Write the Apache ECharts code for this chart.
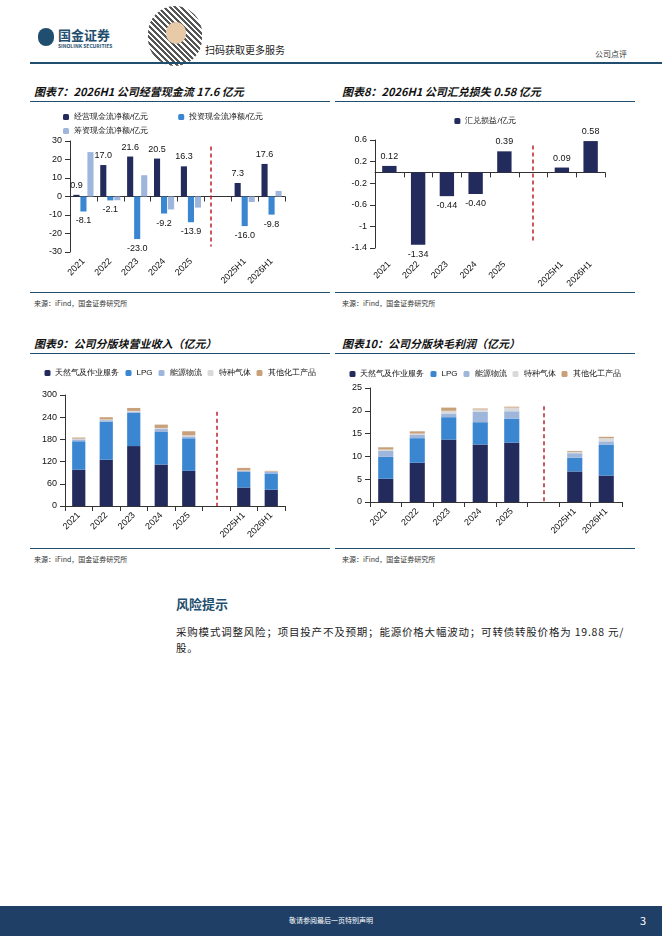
<!DOCTYPE html>
<html><head><meta charset="utf-8">
<script src="https://cdn.jsdelivr.net/npm/echarts@6/dist/echarts.min.js"></script>
<style>
body{margin:0;width:662px;height:936px;position:relative;background:#fff;font-family:"Noto Sans CJK SC",sans-serif;overflow:hidden}
.a{position:absolute}
.t{font-size:11px;font-weight:bold;font-style:italic;color:#111}
.ln{height:1px;background:#1f4e6e}
.src{font-size:7px;color:#333}
</style></head><body>
<div class="a" style="left:38px;top:28px;width:16px;height:18px;border-radius:8px;background:#1f4e6e"></div>
<div class="a" style="left:58px;top:25px;font-size:13px;font-weight:bold;color:#1f4e6e">国金证券</div>
<div class="a" style="left:58px;top:42px;font-size:5px;font-weight:bold;color:#1f4e6e">SINOLINK SECURITIES</div>
<div class="a" style="left:148px;top:6px;width:54px;height:60px;border-radius:27px;background:repeating-linear-gradient(45deg,#555 0 2px,#fff 2px 4px)"></div>
<div class="a" style="left:166px;top:22px;width:20px;height:22px;border-radius:10px;background:#e8c9a8"></div>
<div class="a" style="left:205px;top:42px;font-size:10px;color:#222">扫码获取更多服务</div>
<div class="a" style="left:595px;top:48px;font-size:8px;color:#333">公司点评</div>
<div class="a ln" style="left:30px;top:62px;width:632px;height:1.5px"></div>

<div class="a t" style="left:34px;top:83px">图表7：2026H1 公司经营现金流 17.6 亿元</div>
<div class="a ln" style="left:30px;top:101px;width:300px"></div>
<div class="a t" style="left:342px;top:83px">图表8：2026H1 公司汇兑损失 0.58 亿元</div>
<div class="a ln" style="left:335px;top:101px;width:300px"></div>
<div class="a ln" style="left:30px;top:292px;width:300px"></div>
<div class="a ln" style="left:335px;top:292px;width:300px"></div>
<div class="a src" style="left:34px;top:298px">来源：iFind，国金证券研究所</div>
<div class="a src" style="left:342px;top:298px">来源：iFind，国金证券研究所</div>

<div class="a t" style="left:34px;top:335px">图表9：公司分版块营业收入（亿元）</div>
<div class="a ln" style="left:30px;top:353px;width:300px"></div>
<div class="a t" style="left:342px;top:335px">图表10：公司分版块毛利润（亿元）</div>
<div class="a ln" style="left:335px;top:353px;width:300px"></div>
<div class="a ln" style="left:30px;top:548px;width:300px"></div>
<div class="a ln" style="left:335px;top:548px;width:300px"></div>
<div class="a src" style="left:34px;top:554px">来源：iFind，国金证券研究所</div>
<div class="a src" style="left:342px;top:554px">来源：iFind，国金证券研究所</div>

<div class="a" style="left:176px;top:594px;font-size:13px;font-weight:bold;color:#1f4e6e">风险提示</div>
<div class="a" style="left:176px;top:624px;width:460px;font-size:10.5px;color:#222;line-height:16px;letter-spacing:0.8px">采购模式调整风险；项目投产不及预期；能源价格大幅波动；可转债转股价格为 19.88 元/股。</div>

<div class="a" style="left:0;top:906px;width:662px;height:30px;background:#1f3f66"></div>
<div class="a" style="left:0;top:915px;width:662px;text-align:center;font-size:7px;color:#fff">敬请参阅最后一页特别声明</div>
<div class="a" style="left:640px;top:912px;font-size:11px;color:#fff">3</div>

<div id="c7" class="a" style="left:30px;top:105px;width:300px;height:190px"></div>
<div id="c8" class="a" style="left:335px;top:105px;width:300px;height:190px"></div>
<div id="c9" class="a" style="left:30px;top:355px;width:300px;height:195px"></div>
<div id="c10" class="a" style="left:335px;top:355px;width:300px;height:195px"></div>
<script>
const categories=['2021','2022','2023','2024','2025','','2025H1','2026H1'];
const opCF=[0.9,17.0,21.6,20.5,16.3,null,7.3,17.6];
const invCF=[-8.1,-2.1,-23.0,-9.2,-13.9,null,-16.0,-9.8];
const finCF=[24.0,-2.0,11.5,-7.0,-6.0,null,-3.0,3.0];
const fx=[0.12,-1.34,-0.44,-0.40,0.39,null,0.09,0.58];
const segNames=['天然气及作业服务','LPG','能源物流','特种气体','其他化工产品'];
const revGas=[98,125,162,112,95,null,50,44];
const revLPG=[77,103,90,88,88,null,42,44];
const revLog=[5,4,3,8,5,null,3,4];
const revSpec=[2,2,2,3,3,null,1,1];
const revOther=[3,6,8,9,11,null,7,2];
const gpGas=[5.1,8.6,13.7,12.6,13.0,null,6.7,5.8];
const gpLPG=[4.8,5.4,4.9,4.9,5.3,null,3.0,6.8];
const gpLog=[1.3,0.7,0.8,2.3,1.6,null,1.0,0.7];
const gpSpec=[0.3,0.3,0.6,0.5,0.8,null,0.3,0.7];
const gpOther=[0.5,0.5,0.7,0.2,0.2,null,0.2,0.3];
const C=['#232a5c','#3a86d0','#9fb6dc','#d9d9d9','#c8a07a'];
function xAx(m){return {type:'category',data:categories,axisTick:{show:true,alignWithLabel:false,lineStyle:{color:'#333'}},axisLine:{lineStyle:{color:'#333'}},axisLabel:{rotate:45,fontSize:9,color:'#111',interval:0,fontFamily:'Arial',margin:m||8}};}
function yAx(min,max,itv){return {type:'value',min,max,interval:itv,splitLine:{show:false},axisLine:{show:true,lineStyle:{color:'#333'}},axisTick:{show:true,lineStyle:{color:'#333'}},axisLabel:{fontSize:9,color:'#111',fontFamily:'Arial'}};}
function mk(y1,y2){return {symbol:'none',silent:true,label:{show:false},lineStyle:{color:'#c0202a',type:[4,3],width:1.5},data:[[{coord:[5,y1]},{coord:[5,y2]}]]};}
const lbl={fontSize:9,color:'#111',fontFamily:'Arial'};
const lg={itemWidth:6,itemHeight:6,textStyle:{fontSize:8,color:'#111'}};
echarts.init(document.getElementById('c7')).setOption({animation:false,
 legend:[{left:28,top:3,itemGap:30,data:['经营现金流净额/亿元','投资现金流净额/亿元'],...lg},{left:28,top:17,data:['筹资现金流净额/亿元'],...lg}],
 grid:{left:40,right:45,top:36,bottom:43},xAxis:xAx(),yAxis:yAx(-30,30,10),
 series:[
 {name:'经营现金流净额/亿元',type:'bar',data:opCF,itemStyle:{color:C[0]},barGap:'15%',barCategoryGap:'25%',label:{show:true,position:'top',...lbl,formatter:p=>p.value.toFixed(1)},markLine:mk(27,-27)},
 {name:'投资现金流净额/亿元',type:'bar',data:invCF,itemStyle:{color:C[1]},label:{show:true,position:'bottom',...lbl,formatter:p=>p.value.toFixed(1)}},
 {name:'筹资现金流净额/亿元',type:'bar',data:finCF,itemStyle:{color:C[2]}}]});
echarts.init(document.getElementById('c8')).setOption({animation:false,
 legend:{left:'center',top:7,...lg},
 grid:{left:40,right:30,top:35,bottom:47},xAxis:xAx(15),yAxis:yAx(-1.4,0.6,0.4),
 series:[{name:'汇兑损益/亿元',type:'bar',barWidth:'50%',itemStyle:{color:C[0]},
 data:fx.map(v=>v==null?null:{value:v,label:{position:v>=0?'top':'bottom'}}),
 label:{show:true,...lbl,formatter:p=>p.value.toFixed(2)},markLine:mk(0.5,-1.3)}]});
function stack(id,arrs,min,max,itv,grid,ltop,y1,y2){
 echarts.init(document.getElementById(id)).setOption({animation:false,
 legend:{left:'center',top:ltop,itemGap:6,...lg},
 grid,xAxis:xAx(),yAxis:yAx(min,max,itv),
 series:arrs.map((d,i)=>({name:segNames[i],type:'bar',stack:'s',data:d,barWidth:'48%',itemStyle:{color:C[i]},markLine:i==0?mk(y1,y2):undefined}))});}
stack('c9',[revGas,revLPG,revLog,revSpec,revOther],0,300,60,{left:35,right:45,top:40,bottom:44},9,255,0);
stack('c10',[gpGas,gpLPG,gpLog,gpSpec,gpOther],0,25,5,{left:35,right:13,top:33,bottom:48},10,21,0);
</script></body></html>
